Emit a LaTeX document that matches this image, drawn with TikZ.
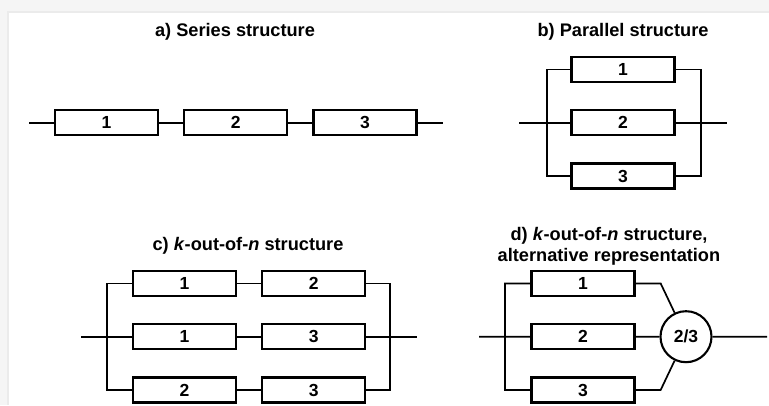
\documentclass[tikz,border=0pt]{standalone}
\usepackage{fontspec}
\setmainfont{Liberation Sans}
\usepackage{xcolor}
\colorlet{FRAMECOLOR}{gray!8}
\colorlet{FRAMELINECOLOR}{gray!16}
\usetikzlibrary{positioning,calc}
\newcommand\titleFont{\fontsize{18.2}{21}\bfseries\selectfont}
\newcommand\numFont{\fontsize{17.5}{19}\bfseries\selectfont}
\tikzset{
  block-style/.style = {
    rectangle, draw, line width=2.3pt,
    minimum width=103pt,
    minimum height=25pt,
    inner sep=0pt,
    font=\numFont
  },
  vote-style/.style = {
    circle, draw, line width=2.1pt,
    minimum size=51pt,
    inner sep=0pt,
    font=\numFont
  },
  wire-style/.style = {
    line width=1.7pt
  },
  title-style/.style = {
    font=\titleFont, align=center
  }
}
\begin{document}
\begin{tikzpicture}[x=1pt,y=-1pt]
  \useasboundingbox (0,0) rectangle (769,405);
  % window frame
  \fill[FRAMECOLOR] (0,0) rectangle (769,12);
  \fill[FRAMECOLOR] (0,0) rectangle (8,405);
  \draw[FRAMELINECOLOR, line width=1.2pt] (8,405) -- (8,12) -- (769,12);

  % a) series
  \node[title-style] (atitle) at (235,32) {a) Series structure};
  \node[block-style] (a1) at (106.5,122.7) {1};
  \node[block-style, right=24pt of a1] (a2) {2};
  \node[block-style, right=24pt of a2] (a3) {3};
  \coordinate (ain) at (29,122.7);
  \coordinate (aout) at (443,122.7);
  \draw[wire-style] (ain) -- (a1.west)
                    (a1.east) -- (a2.west)
                    (a2.east) -- (a3.west)
                    (a3.east) -- (aout);

  % b) parallel
  \node[title-style] (btitle) at (623,32) {b) Parallel structure};
  \node[block-style] (b2) at (623,122.7) {2};
  \node[block-style, above=26pt of b2] (b1) {1};
  \node[block-style, below=26pt of b2] (b3) {3};
  \coordinate (bleft) at (547,122.7);
  \coordinate (bright) at (701,122.7);
  \coordinate (bin) at (519,122.7);
  \coordinate (bout) at (727,122.7);
  \draw[wire-style] (b1.west) -| (bleft) |- (b3.west)
                    (b1.east) -| (bright) |- (b3.east)
                    (bin) -- (b2.west)
                    (b2.east) -- (bout);

  % c) k-out-of-n
  \node[title-style] (ctitle) at (248,246) {c) \textit{k}-out-of-\textit{n} structure};
  \node[block-style] (c21) at (184.5,336.7) {1};
  \node[block-style, right=24pt of c21] (c22) {3};
  \node[block-style, above=26pt of c21] (c11) {1};
  \node[block-style, right=24pt of c11] (c12) {2};
  \node[block-style, below=26pt of c21] (c31) {2};
  \node[block-style, right=24pt of c31] (c32) {3};
  \coordinate (cleft) at (107,336.7);
  \coordinate (cright) at (390,336.7);
  \coordinate (cin) at (81,336.7);
  \coordinate (cout) at (417,336.7);
  \draw[wire-style] (c11.west) -| (cleft) |- (c31.west)
                    (c12.east) -| (cright) |- (c32.east)
                    (cin) -- (c21.west)
                    (c22.east) -- (cout);
  \foreach \row in {1,2,3}
    \draw[wire-style] (c\row1.east) -- (c\row2.west);

  % d) k-out-of-n with voter
  \node[title-style] (dtitle) at (609,246.5) {d) \textit{k}-out-of-\textit{n} structure,\\alternative representation};
  \node[block-style] (d2) at (583,336.7) {2};
  \node[block-style, above=26pt of d2] (d1) {1};
  \node[block-style, below=26pt of d2] (d3) {3};
  \node[vote-style] (vote) at (686,336.7) {2/3};
  \coordinate (dleft) at (505,336.7);
  \coordinate (din) at (479,336.7);
  \coordinate (dout) at (767,336.7);
  \draw[wire-style] (d1.west) -| (dleft) |- (d3.west)
                    (din) -- (d2.west)
                    (d1.east) -- ++(25,0) -- (vote)
                    (d2.east) -- (vote)
                    (d3.east) -- ++(25,0) -- (vote)
                    (vote) -- (dout);
\end{tikzpicture}
\end{document}
